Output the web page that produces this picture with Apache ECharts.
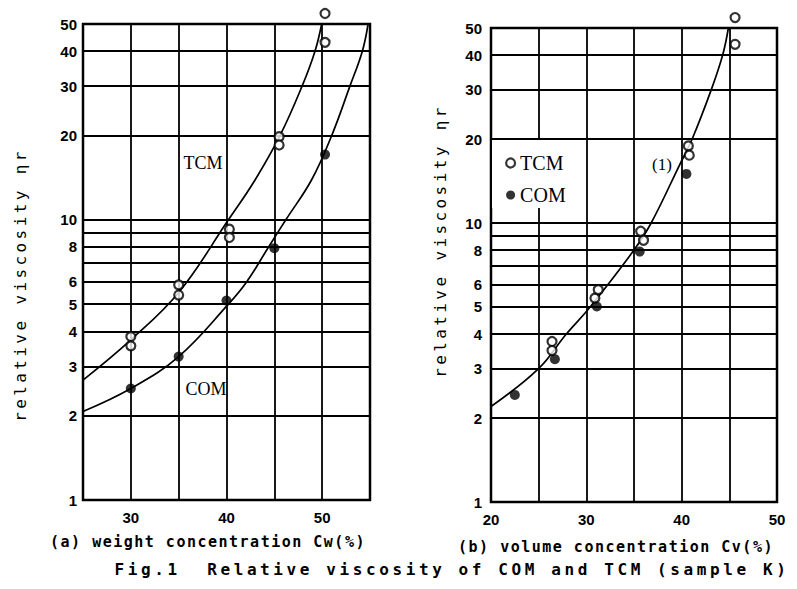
<!DOCTYPE html>
<html>
<head>
<meta charset="utf-8">
<script src="https://cdn.jsdelivr.net/npm/echarts@6/dist/echarts.min.js"></script>
<style>
html, body { margin: 0; padding: 0; background: #fff; }
#c { width: 797px; height: 589px; }
#c text[style*="capfont"] { letter-spacing: 3.6px; }
#c text[style*="xnamefont"] { letter-spacing: 1.5px; }
#c text[style*="ynamefont"] { letter-spacing: 3.4px; }
</style>
</head>
<body>
<div id="c"></div>
<script>
// ---- (a) weight concentration ----
const tcmCw   = [30, 30, 35, 35, 40.3, 40.3, 45.5, 45.5, 50.3, 50.3];
const tcmEtaA = [3.83, 3.55, 5.86, 5.39, 9.26, 8.65, 19.8, 18.5, 54.5, 43.0];
const comCw   = [30, 35, 40, 45, 50.3];
const comEtaA = [2.5, 3.25, 5.15, 7.92, 17.1];
const tcmCurveCw  = [25, 30, 35, 40.2, 43, 45.6, 47.9, 49.25, 49.95];
const tcmCurveEta = [2.68, 3.73, 5.5, 10, 13.9, 20, 30, 40, 50];
const comCurveCw  = [25, 30, 35, 40.2, 42.1, 44.4, 46.2, 48.9, 51.0, 52.9, 54.2, 54.8];
const comCurveEta = [2.07, 2.5, 3.25, 5, 6, 8, 10, 13.9, 20, 30, 40, 50];

// ---- (b) volume concentration ----
const tcmCv   = [26.4, 26.4, 30.9, 31.25, 35.7, 36.0, 40.7, 40.8, 45.6, 45.6];
const tcmEtaB = [3.76, 3.49, 5.38, 5.77, 9.34, 8.67, 18.9, 17.5, 54.5, 43.7];
const comCv   = [22.5, 26.7, 31.1, 35.6, 40.5];
const comEtaB = [2.42, 3.25, 5.02, 7.9, 15.0];
const curve1Cv  = [20, 24.96, 27.9, 30.4, 35.0, 36.8, 39.8, 41.1, 43.1, 44.3, 44.9];
const curve1Eta = [2.2, 3, 4, 5, 8, 10, 16.2, 20, 30, 40, 50];

// ---- axes ----
const yGridValues = [1, 2, 3, 4, 5, 6, 7, 8, 9, 10, 20, 30, 40, 50];
const yTickLabels = [1, 2, 3, 4, 5, 6, 8, 10, 20, 30, 40, 50];
const xTickLabelsA = [30, 40, 50];
const xTickLabelsB = [20, 30, 40, 50];

const pts = (xs, ys) => xs.map((x, i) => [x, ys[i]]);

const tickFont = { fontFamily: "'Liberation Sans', Arial, sans-serif", fontSize: 15, fontWeight: 'bold', color: '#000' };
const serif = "'Liberation Serif', 'Times New Roman', serif";

function gridMarkLine(dist) {
  return {
    silent: true,
    animation: false,
    symbol: ['none', 'none'],
    lineStyle: { color: '#000', width: 1.8, type: 'solid' },
    label: Object.assign({ position: 'start', distance: dist, formatter: p => String(p.value) }, tickFont),
    data: yGridValues.map(v => ({ yAxis: v, label: { show: yTickLabels.includes(v) } }))
  };
}

function xAxisCfg(gi, mn, mx, labels) {
  return {
    gridIndex: gi, type: 'value', min: mn, max: mx, interval: 5,
    axisLine: { show: false }, axisTick: { show: false },
    splitLine: { show: true, lineStyle: { color: '#000', width: 1.8 } },
    axisLabel: Object.assign({ margin: 10, formatter: v => labels.includes(v) ? String(v) : '' }, tickFont)
  };
}
function yAxisCfg(gi) {
  return {
    gridIndex: gi, type: 'log', logBase: 10, min: 1, max: 50,
    axisLine: { show: false }, axisTick: { show: false },
    axisLabel: { show: false }, splitLine: { show: false }
  };
}
const curveStyle = { color: '#000', width: 1.7 };
const openCircle = { color: '#fff', borderColor: '#000', borderWidth: 2.2 };

const chart = echarts.init(document.getElementById('c'), null, { renderer: 'svg' });
chart.setOption({
  animation: false,
  backgroundColor: '#fff',
  grid: [
    { left: 83, top: 24, width: 287, height: 476, show: true, borderColor: '#000', borderWidth: 2.5, backgroundColor: 'transparent' },
    { left: 491, top: 28, width: 286, height: 474, show: true, borderColor: '#000', borderWidth: 2.5, backgroundColor: 'transparent' }
  ],
  xAxis: [xAxisCfg(0, 25, 55, xTickLabelsA), xAxisCfg(1, 20, 50, xTickLabelsB)],
  yAxis: [yAxisCfg(0), yAxisCfg(1)],
  legend: {
    data: [
      { name: 'TCM', icon: 'circle', itemStyle: { color: '#fff', borderColor: '#000', borderWidth: 2.2 } },
      { name: 'COM', icon: 'circle', itemStyle: { color: '#000', borderWidth: 0 } }
    ],
    orient: 'vertical', left: 492, top: 140,
    itemWidth: 9, itemHeight: 9, itemGap: 10,
    padding: [12, 6, 2, 13],
    backgroundColor: '#fff',
    selectedMode: false,
    textStyle: { fontFamily: serif, fontSize: 20, color: '#000', lineHeight: 22 }
  },
  series: [
    { type: 'line', name: 'TCM curve (a)', xAxisIndex: 0, yAxisIndex: 0, data: pts(tcmCurveCw, tcmCurveEta),
      smooth: 0.4, showSymbol: false, lineStyle: curveStyle, markLine: gridMarkLine(6) },
    { type: 'line', name: 'COM curve (a)', xAxisIndex: 0, yAxisIndex: 0, data: pts(comCurveCw, comCurveEta),
      smooth: 0.4, showSymbol: false, lineStyle: curveStyle },
    { type: 'scatter', name: 'TCM', xAxisIndex: 0, yAxisIndex: 0, data: pts(tcmCw, tcmEtaA),
      symbol: 'circle', symbolSize: 9, itemStyle: openCircle, clip: false, z: 5 },
    { type: 'scatter', name: 'COM', xAxisIndex: 0, yAxisIndex: 0, data: pts(comCw, comEtaA),
      symbol: 'circle', symbolSize: 10, itemStyle: { color: '#000' }, clip: false, z: 5 },

    { type: 'line', name: 'curve (1)', xAxisIndex: 1, yAxisIndex: 1, data: pts(curve1Cv, curve1Eta),
      smooth: 0.4, showSymbol: false, lineStyle: curveStyle, markLine: gridMarkLine(9) },
    { type: 'scatter', name: 'TCM', xAxisIndex: 1, yAxisIndex: 1, data: pts(tcmCv, tcmEtaB),
      symbol: 'circle', symbolSize: 9, itemStyle: openCircle, clip: false, z: 5 },
    { type: 'scatter', name: 'COM', xAxisIndex: 1, yAxisIndex: 1, data: pts(comCv, comEtaB),
      symbol: 'circle', symbolSize: 10, itemStyle: { color: '#000' }, clip: false, z: 5 }
  ],
  graphic: [
    { type: 'text', x: 203, y: 163, z: 10, style: { text: 'TCM', fontFamily: serif, fontSize: 18, fill: '#000', align: 'center', verticalAlign: 'middle', textAlign: 'center', textVerticalAlign: 'middle' } },
    { type: 'text', x: 206, y: 389, z: 10, style: { text: 'COM', fontFamily: serif, fontSize: 18, fill: '#000', align: 'center', verticalAlign: 'middle', textAlign: 'center', textVerticalAlign: 'middle' } },
    { type: 'text', x: 662, y: 164, z: 10, style: { text: '(1)', fontFamily: serif, fontSize: 17, fill: '#000', align: 'center', verticalAlign: 'middle', textAlign: 'center', textVerticalAlign: 'middle' } },
    { type: 'text', x: 20, y: 285, rotation: Math.PI / 2, z: 10, style: { text: 'relative viscosity ηr', fontFamily: "'DejaVu Sans Mono', ynamefont, monospace", fontSize: 16, fill: '#000', align: 'center', verticalAlign: 'middle', textAlign: 'center', textVerticalAlign: 'middle' } },
    { type: 'text', x: 440, y: 241, rotation: Math.PI / 2, z: 10, style: { text: 'relative viscosity ηr', fontFamily: "'DejaVu Sans Mono', ynamefont, monospace", fontSize: 16, fill: '#000', align: 'center', verticalAlign: 'middle', textAlign: 'center', textVerticalAlign: 'middle' } },
    { type: 'text', x: 208, y: 542, z: 10, style: { text: '(a) weight concentration Cw(%)', fontFamily: "'DejaVu Sans Mono', xnamefont, monospace", fontSize: 15, fontWeight: 'bold', fill: '#000', align: 'center', verticalAlign: 'middle', textAlign: 'center', textVerticalAlign: 'middle' } },
    { type: 'text', x: 616, y: 547, z: 10, style: { text: '(b) volume concentration Cv(%)', fontFamily: "'DejaVu Sans Mono', xnamefont, monospace", fontSize: 15, fontWeight: 'bold', fill: '#000', align: 'center', verticalAlign: 'middle', textAlign: 'center', textVerticalAlign: 'middle' } },
    { type: 'text', x: 452, y: 569, z: 10, style: { text: 'Fig.1  Relative viscosity of COM and TCM (sample K)', fontFamily: "'DejaVu Sans Mono', capfont, monospace", fontSize: 16, fontWeight: 'bold', fill: '#000', align: 'center', verticalAlign: 'middle', textAlign: 'center', textVerticalAlign: 'middle' } }
  ]
});
</script>
</body>
</html>
